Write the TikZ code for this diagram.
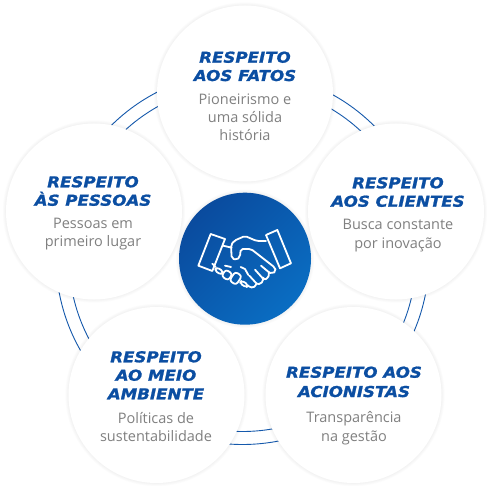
\documentclass[tikz,border=0pt]{standalone}
\usepackage{fontspec}
\setmainfont{Open Sans}
\newfontfamily\headfont[FakeStretch=1.11,FakeBold=1.3]{DejaVu Sans Bold Oblique}
\definecolor{headblue}{HTML}{0B4EA2}
\definecolor{ringblue}{HTML}{1559AC}
\definecolor{bodygrey}{HTML}{808080}
\definecolor{hubdark}{HTML}{0A4B9E}
\definecolor{hublight}{HTML}{0A6DC2}
\newcommand{\halo}[2]{\foreach \k in {0.8,1.6,2.4,3.2}{\fill[black,opacity=.012] #1 circle ({#2+\k});}}
\newcommand{\capsule}[4]{\draw[finger] ({#1+#3*.55+#4*.835},{#2-#3*.835+#4*.55}) -- ({#1-#3*.55+#4*.835},{#2+#3*.835+#4*.55}) -- ({#1-#3*.55-#4*.835},{#2+#3*.835-#4*.55}) -- ({#1+#3*.55-#4*.835},{#2-#3*.835-#4*.55}) -- cycle;}
\tikzset{
  ring/.style={draw=ringblue,line width=.9pt},
  bubble/.style={circle,fill=white,minimum size=176pt,inner sep=0pt},
  hub/.style={circle,minimum size=132pt,inner sep=0pt,shading=axis,left color=hubdark,right color=hublight,shading angle=45},
  headline/.style={anchor=base,inner sep=0pt,text=headblue,font=\headfont\fontsize{15}{18}\selectfont},
  bodyline/.style={anchor=base,inner sep=0pt,text=bodygrey,font=\fontsize{14.5}{18}\selectfont},
  hand/.style={draw=white,line width=1.8pt,line join=round,line cap=round},
  finger/.style={hand,rounded corners=2.8pt}
}
\begin{document}
\begin{tikzpicture}[x=1pt,y=-1pt]
\useasboundingbox (0,0) rectangle (490,489);
\fill[white] (0,0) rectangle (490,489);
\coordinate (ringc) at (242.5,258);
\draw[ring] (ringc) circle (186.5);
\draw[ring] (ringc) circle (173.5);
\halo{(245,93.5)}{88}
\halo{(396,211.5)}{88}
\halo{(94,211.5)}{88}
\halo{(156.5,395)}{88}
\halo{(353.5,395)}{88}
\halo{(245,258.7)}{66}
\node[bubble] (top) at (245,93.5) {};
\node[bubble] (right) at (396,211.5) {};
\node[bubble] (left) at (94,211.5) {};
\node[bubble] (botl) at (156.5,395) {};
\node[bubble] (botr) at (353.5,395) {};
\node[hub] (hubc) at (245,258.7) {};
\node[headline] (ta) at (245,62.7) {RESPEITO};
\node[headline] (tb) at (245,81) {AOS FATOS};
\node[bodyline] (tc) at (245,104.3) {Pioneirismo e};
\node[bodyline] (td) at (245,122.7) {uma sólida};
\node[bodyline] (te) at (245,141) {história};
\node[headline] (ra) at (398,188.3) {RESPEITO};
\node[headline] (rb) at (398,206.7) {AOS CLIENTES};
\node[bodyline] (rc) at (398,230) {Busca constante};
\node[bodyline] (rd) at (398,248.3) {por inovação};
\node[headline] (la) at (93,187.3) {RESPEITO};
\node[headline] (lb) at (93,205.7) {ÀS PESSOAS};
\node[bodyline] (lc) at (93,228.7) {Pessoas em};
\node[bodyline] (ld) at (93,246.7) {primeiro lugar};
\node[headline] (ba) at (156,362.3) {RESPEITO};
\node[headline] (bb) at (156,380.7) {AO MEIO};
\node[headline] (bc) at (156,399.3) {AMBIENTE};
\node[bodyline] (bd) at (156,423.3) {Políticas de};
\node[bodyline] (be) at (156,441.7) {sustentabilidade};
\node[headline] (ca) at (354,377.7) {RESPEITO AOS};
\node[headline] (cb) at (354,397) {ACIONISTAS};
\node[bodyline] (cc) at (354,422.3) {Transparência};
\node[bodyline] (cd) at (354,441.7) {na gestão};
\begin{scope}[shift={(195,225)},x=0.3333pt,y=-0.3333pt]
\draw[hand] (47,27) -- (90,42) -- (52,138) -- (10,122) -- cycle;
\draw[hand] (247,15) -- (288,115) -- (255,130) -- (213,30) -- cycle;
\draw[hand] (84,62) -- (110,68);
\draw[hand,rounded corners=2pt] (213,48) -- (185,48) -- (150,33) -- (118,47) -- (108,60) -- (110,100) -- (125,105) -- (135,95) -- (137,72) -- (168,72) -- (240,128) -- (243,138) -- (232,146) -- (222,142);
\draw[hand,rounded corners=2pt] (222,142) -- (220,160) -- (205,164) -- (205,162);
\draw[hand,rounded corners=2pt] (205,162) -- (198,178) -- (185,176);
\draw[hand,rounded corners=2pt] (185,176) -- (175,190) -- (158,182);
\draw[hand] (222,142) -- (198,122);
\draw[hand] (205,162) -- (180,134);
\draw[hand] (185,176) -- (163,152);
\draw[hand] (52,116) -- (62,126);
\draw[hand] (90,122) -- (108,126);
\draw[hand] (137,126) -- (150,132) -- (160,150);
\capsule{72}{138}{6}{12}
\capsule{96}{150}{12}{12}
\capsule{122}{160}{16}{12}
\capsule{147}{177}{5}{12}
\end{scope}
\end{tikzpicture}
\end{document}
